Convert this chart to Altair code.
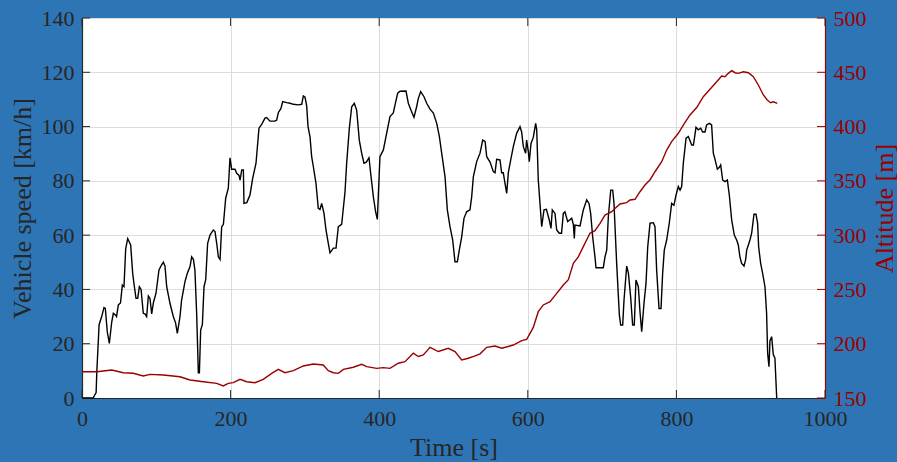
import altair as alt
import pandas as pd

# ---- data ----
time_s = [0, 15, 17, 19, 20, 23, 26.5, 29.6, 31.4, 34, 36.8, 40, 42.2, 45, 46.5, 48.9, 51.8, 54.3, 56.5, 58.8,
          61.5, 65.5, 68.2, 70, 72.7, 75, 77.2, 79.5, 82.5, 84.7, 87, 89.3, 91.5, 93.8, 96, 99.6, 103.6, 107,
          109.5, 111.7, 114, 118.4, 122.9, 126, 128.3, 131.9, 134, 138.6, 141.8, 145.4, 147.6, 150, 152, 154.3,
          156.6, 158, 159.7, 162, 164.2, 166.5, 169.1, 172.3, 176.7, 179, 181.3, 183.5, 185.8, 188, 190.3,
          193.4, 196.9, 199.2, 201.4, 205.9, 208.2, 211.4, 212.7, 215, 217.2, 218, 221.8, 226.1, 229.7, 234.2,
          238.2, 241.8, 246.3, 248.5, 253, 259.8, 262, 264.2, 267.8, 270.1, 275.5, 280, 284.5, 291.2, 295.7,
          297.9, 300.2, 302.4, 304.2, 306.9, 309.1, 311.4, 314.9, 318, 320.3, 322.6, 325.7, 328.4, 331.5, 333.8,
          338.3, 341.9, 345, 349.5, 354, 356.2, 359.8, 363, 366.5, 369.7, 373.2, 376.4, 379.5, 382.6, 386.3,
          388.5, 392.1, 395.2, 397.5, 401, 405.6, 410, 414.5, 419, 421.3, 424.9, 428, 436.1, 439.2, 442.8,
          446.8, 450.4, 452.6, 455.8, 460.3, 463.9, 468.4, 472.9, 477.4, 481, 484.1, 488.6, 491.7, 495.3,
          498.9, 502, 505.2, 507.8, 511, 514.1, 517.7, 522.2, 524.5, 526.7, 531.2, 535.7, 539.3, 542.5, 544.7,
          549.2, 553.6, 555.9, 558.1, 562.6, 564.8, 567, 569.3, 571.6, 573.8, 577, 580.5, 585, 589.5, 591.7,
          594, 597.1, 598.4, 600.7, 602, 604.3, 607.4, 610.6, 612, 614.1, 616.4, 618.7, 621.8, 625, 628.9,
          631.2, 633, 636.6, 638.9, 642.4, 645.4, 647.8, 650, 653.7, 659.1, 661.3, 662.6, 663.5, 670.3, 674.7,
          679.3, 682.4, 684.6, 687.3, 690.4, 691.8, 701.6, 703.9, 706.2, 708.4, 711.6, 714.3, 716, 719.6,
          723.2, 725, 727.7, 729.5, 733.1, 735.4, 738.4, 741.1, 743.3, 745.6, 748.8, 751, 753.3, 756.4, 759.1,
          761.4, 764.5, 769, 771.2, 773.4, 776.6, 779.3, 781.5, 783.7, 786.9, 790.4, 793.6, 796.7, 799.5,
          802.6, 804.9, 807.1, 809.3, 813, 816.1, 820.6, 822.9, 826.4, 829.5, 832.7, 835.4, 838.5, 840.7,
          844.3, 847.4, 849.7, 851.9, 855.1, 857.8, 859.6, 862.3, 865.5, 868.6, 871.2, 874.4, 877.9, 881.1,
          883.3, 885.5, 887.8, 891, 893.2, 894.6, 899, 901.3, 904.4, 907.1, 909.3, 910.7, 913.4, 916, 919.2,
          921.4, 922.8, 924.6, 925.9, 928.2, 930.4, 932.6, 935]
speed_kmh = [0, 0, 1, 2, 10, 27, 30, 33.3, 33, 24.4, 20.1, 28, 31.2, 30.6, 30, 34.3, 35, 41.6, 41, 55,
             58.7, 56.4, 46, 42, 36.7, 36.7, 41, 40, 31.2, 31, 30, 37.6, 36.7, 31, 35, 38.6, 47.2, 49,
             50, 48.6, 41, 34.9, 30, 27.6, 23.8, 30, 36, 42.9, 46, 48.4, 52, 51, 47, 31.2,
             9.3, 9.3, 25, 27, 41, 43.6, 57, 60, 61.9, 61.3, 57, 52, 51, 63.1, 64,
             73.6, 77.3, 88.5, 84.3, 84.3, 82.8, 82, 80.3, 84, 84, 71.7, 72, 74.8, 80.9, 86.5,
             99.4, 100.8, 103.1, 103.3, 102, 102, 102.4, 105.1, 106.7, 109.2, 108.8, 108.6, 108.2, 108, 108.2,
             111.3, 110.8, 107.6, 100, 96.2, 88.9, 85.2, 79.1, 69.9, 69.5, 71.7, 68, 61.9, 57, 53.5,
             55.2, 55.2, 63.1, 64, 76, 86.5, 99.4, 107.3, 108.6, 106, 95, 90.2, 86.5, 86.9, 88.5,
             82.8, 74.2, 68.6, 65.8, 88.9, 91.4, 97.5, 103.7, 105, 108, 112.3, 113, 113.1, 108.6, 106,
             103.4, 107.3, 110.3, 112.9, 111, 108.6, 106.4, 105, 101.2, 96.3, 90.2, 81.5, 69.3, 63.1,
             58.2, 50.2, 50.2, 54.5, 59.4, 66.2, 68.6, 69.3, 74.2, 81.5, 87.1, 90.2, 95, 94.5, 88.9,
             86.9, 83.4, 83, 87.9, 87.7, 83, 83, 79.1, 75.4, 83, 87.7, 92.6, 97.5, 100, 98,
             92.6, 90.2, 95, 90.8, 87.1, 93.8, 96, 101.2, 98.8, 80.3, 71.7, 63.1, 69.3, 69.5, 65.6,
             62.5, 69.3, 68, 61.9, 60.7, 60.7, 68, 68.6, 65, 66.2, 64, 58.8, 63.7, 63.4, 69.3,
             73, 71.7, 68, 59.4, 52, 48, 48, 52, 54.5, 66.8, 76.6, 76.6, 71.7, 49.6,
             30.6, 26.9, 26.9, 36.1, 48.6, 46, 37.3, 26.9, 26.9, 43.5, 41, 31.8, 24.4, 34.9, 42.3,
             55.7, 64.4, 64.6, 63.1, 47.2, 33, 33, 46, 54.5, 58.2, 64.4, 71.7, 71, 74.8,
             77.9, 76.6, 77.9, 86.5, 95.7, 96.3, 93.2, 93.2, 99.7, 98.8, 99.4, 98, 98, 100.6,
             101.2, 100.6, 90.2, 88, 84.3, 85, 85.9, 80.3, 79.7, 80.3, 74.8, 65.6, 60, 58.2,
             56.4, 52, 49.6, 48.6, 51, 54.5, 58.2, 60.7, 67.7, 67.7, 64.4, 55.7, 49.6, 46, 41,
             31.2, 16.5, 11.5, 21, 22.6, 16, 14.7, 0]

alt_time_s = [0, 20, 40, 55.6, 69, 82.5, 91.5, 109.4, 131.9, 145.4, 163.3, 181.3, 190.2, 196.9, 203.6, 212.7,
              221.7, 232.8, 244, 255.3, 264.2, 273.2, 284.5, 297.9, 311.3, 324.7, 331.5, 338.3, 345, 351.8,
              365.2, 376.4, 383.2, 396.6, 405.6, 414.5, 425.7, 434.7, 445.9, 452.6, 459.4, 468.4, 479.6, 493,
              502, 511, 520, 529, 535.8, 544.7, 555.9, 564.9, 580.5, 591.8, 598.5, 607.4, 614.1, 620.9, 629.9,
              638.9, 647.8, 654.6, 661.3, 668, 674.7, 683.7, 690.4, 697.2, 703.9, 712.9, 717.4, 724.1, 733.1,
              737.6, 744.3, 751, 757.7, 764.4, 771.2, 780.2, 786.9, 793.6, 802.6, 809.3, 818.3, 827.3, 836.2,
              845.2, 854.2, 860.9, 865.4, 869.8, 874.4, 878.9, 883.3, 890.1, 896.8, 903.5, 910.3, 917, 922.3,
              926.9, 930.4, 935.8]
altitude_m = [174.2, 174.2, 175.8, 173.3, 172.8, 170.3, 171.8, 171.2, 169.6, 166.6, 165, 163.5, 161.1, 163.5,
              164.1, 167.2, 165, 164.1, 167.2, 172.7, 176.4, 173.3, 175.2, 179.5, 181.3, 180.4, 175.2, 173.3,
              172.7, 176.4, 178.3, 181, 178.9, 177.3, 178, 177.3, 182, 183.5, 191.2, 188.2, 189.7, 196.7, 192.8,
              195.8, 192.8, 185, 186.6, 188.8, 190.7, 196.7, 197.9, 195.8, 198.8, 202.8, 204, 215, 229.5, 235.7,
              238.7, 246.4, 254.1, 259, 274.1, 280, 289.4, 301.7, 304.1, 310.9, 318.5, 321.6, 324.6, 328.7, 330,
              332.4, 333, 340, 346.2, 350.8, 358.4, 367.6, 378.4, 386.1, 393.8, 401.4, 410.7, 417.5, 427.5,
              434.3, 441.3, 446.6, 446, 449, 451.5, 449.6, 449, 450.5, 449.6, 446, 438.3, 429.1, 424.5,
              422, 422.8, 421.4]

time_ticks = [0, 200, 400, 600, 800, 1000]
speed_ticks = [0, 20, 40, 60, 80, 100, 120, 140]
alt_ticks = [150, 200, 250, 300, 350, 400, 450, 500]

# ---- styling ----
BG = "#2e75b6"
DARK = "#262626"
RED = "#990000"
FONT = "Liberation Serif"
W, H = 743, 380

speed_df = pd.DataFrame({"t": time_s, "v": speed_kmh})
alt_df = pd.DataFrame({"t": alt_time_s, "a": altitude_m})
xt_df = pd.DataFrame({"t": time_ticks})
st_df = pd.DataFrame({"s": speed_ticks})
at_df = pd.DataFrame({"a": alt_ticks})

x_scale = alt.Scale(domain=[0, 1000], nice=False, zero=False)
x_axis = alt.Axis(values=time_ticks, title="Time [s]", grid=True, ticks=False,
                  labelFlush=False, labelPadding=10, titlePadding=5,
                  domainColor=DARK, labelColor=DARK, titleColor=DARK, format="d")

def X():
    return alt.X("t:Q", scale=x_scale, axis=x_axis)

speed_scale = alt.Scale(domain=[0, 140], nice=False, zero=False)
alt_scale = alt.Scale(domain=[150, 500], nice=False, zero=False)

speed_line = alt.Chart(speed_df).mark_line(color="black", strokeWidth=1.4).encode(
    x=X(),
    y=alt.Y("v:Q", scale=speed_scale,
            axis=alt.Axis(orient="left", values=speed_ticks, title="Vehicle speed [km/h]",
                          grid=True, ticks=False, labelPadding=8, titlePadding=6,
                          domainColor=DARK, labelColor=DARK, titleColor=DARK)),
)

alt_line = alt.Chart(alt_df).mark_line(color=RED, strokeWidth=1.4).encode(
    x=X(),
    y=alt.Y("a:Q", scale=alt_scale,
            axis=alt.Axis(orient="right", values=alt_ticks, title="Altitude [m]",
                          grid=False, ticks=False, labelPadding=8, titlePadding=5,
                          titleAngle=270, titleBaseline="top",
                          domainColor=RED, labelColor=RED, titleColor=RED)),
)

# inward tick marks (MATLAB style)
x_ticks_bottom = alt.Chart(xt_df).mark_rule(color=DARK, strokeWidth=1).encode(
    x=X(), y=alt.value(H), y2=alt.value(H - 8))
x_ticks_top = alt.Chart(xt_df).mark_rule(color=DARK, strokeWidth=1).encode(
    x=X(), y=alt.value(0), y2=alt.value(8))
y_ticks_left = alt.Chart(st_df).mark_rule(color=DARK, strokeWidth=1).encode(
    y=alt.Y("s:Q", scale=speed_scale, axis=None), x=alt.value(0), x2=alt.value(8))
y_ticks_right = alt.Chart(at_df).mark_rule(color=RED, strokeWidth=1).encode(
    y=alt.Y("a:Q", scale=alt_scale, axis=None), x=alt.value(W), x2=alt.value(W - 8))

chart = alt.layer(
    speed_line, alt_line, x_ticks_bottom, x_ticks_top, y_ticks_left, y_ticks_right
).resolve_scale(y="independent").properties(
    width=W, height=H,
    autosize=alt.AutoSizeParams(type="none"),
    padding={"left": 82, "top": 18, "right": 897 - 82 - W, "bottom": 462 - 18 - H},
    background=BG,
).configure_view(
    fill="white", stroke=None
).configure_axis(
    labelFont=FONT, titleFont=FONT, labelFontSize=22, titleFontSize=26,
    titleFontWeight="normal", gridColor="#dcdcdc", gridWidth=1, domainWidth=1.2,
    labelOverlap=False
)

chart.save("out.html", embed_options={"renderer": "svg", "actions": False})
